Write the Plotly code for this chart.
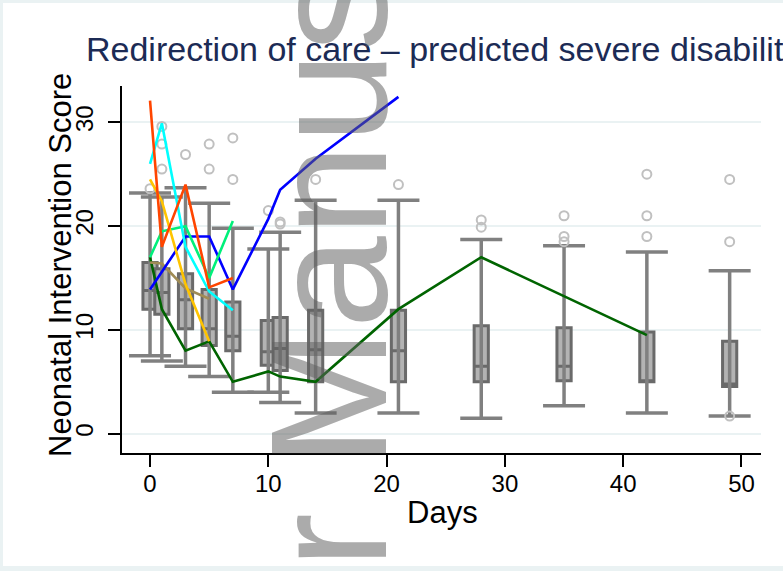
import plotly.graph_objects as go

# ---------------- data ----------------
box_days = [0, 1, 3, 5, 7, 10, 11, 14, 21, 28, 35, 42, 49]
box_q1 = [12.0, 11.5, 10.1, 8.5, 8.0, 6.6, 6.1, 5.0, 5.0, 5.0, 5.1, 5.0, 4.55]
box_med = [13.8, 13.6, 12.9, 10.1, 9.4, 7.9, 8.2, 8.1, 8.0, 6.5, 6.5, 5.0, 4.8]
box_q3 = [16.5, 15.9, 15.4, 13.9, 12.7, 10.9, 11.2, 11.9, 11.9, 10.4, 10.2, 9.8, 8.9]
whisk_lo = [7.5, 7.0, 6.5, 5.5, 4.0, 4.0, 3.0, 2.0, 2.0, 1.5, 2.7, 2.0, 1.7]
whisk_hi = [23.2, 22.8, 23.7, 22.2, 19.8, 17.8, 19.4, 22.5, 22.5, 18.7, 18.1, 17.5, 15.7]

outlier_days = [0, 1, 1, 1, 3, 5, 5, 7, 7, 10, 11, 11, 14, 21, 28, 28,
                35, 35, 35, 42, 42, 42, 49, 49, 49]
outlier_vals = [23.6, 29.6, 27.9, 25.5, 26.9, 27.9, 25.5, 28.5, 24.5, 21.5,
                20.4, 20.2, 24.5, 24.0, 20.6, 19.9, 21.0, 19.0, 18.5,
                25.0, 21.0, 19.0, 24.5, 18.5, 1.7]

orange_days = [0, 1, 3, 5, 7]
orange_vals = [32.1, 18.0, 24.0, 14.1, 15.0]
cyan_days = [0, 1, 3, 5, 7]
cyan_vals = [26.0, 29.9, 18.0, 13.7, 11.9]
gold_days = [0, 1, 3, 5]
gold_vals = [24.5, 22.4, 14.4, 8.9]
spring_days = [0, 1, 3, 5, 7]
spring_vals = [17.0, 19.5, 20.0, 15.0, 20.5]
blue_days = [0, 3, 5, 7, 10, 11, 14, 21]
blue_vals = [13.9, 19.0, 19.0, 13.9, 20.7, 23.5, 26.5, 32.45]
khaki_days = [0, 1, 3, 5]
khaki_vals = [16.5, 16.4, 14.0, 13.0]
dkgreen_days = [0, 1, 3, 5, 7, 10, 11, 14, 21, 28, 42]
dkgreen_vals = [17.0, 12.0, 8.0, 8.9, 5.0, 6.0, 5.5, 5.0, 12.0, 17.0, 9.5]

x_ticks = [0, 10, 20, 30, 40, 50]
y_ticks = [0, 10, 20, 30]

title_text = "Redirection of care \u2013 predicted severe disability"
x_title = "Days"
y_title = "Neonatal Intervention Score"
watermark = "Author Manuscript"

# ---------------- figure ----------------
W, H = 783, 571
ML, MR, MT, MB = 122, 22, 86, 118
PW, PH = W - ML - MR, H - MT - MB


def px_x(p):
    return (p - ML) / PW


def px_y(p):
    return (H - MB - p) / PH


FONT = "Liberation Sans, Arial, sans-serif"
fig = go.Figure()

# whiskers
wx, wy = [], []
for d, lo, hi in zip(box_days, whisk_lo, whisk_hi):
    wx += [d, d, None]
    wy += [lo, hi, None]
fig.add_trace(go.Scatter(x=wx, y=wy, mode="lines",
                         line=dict(color="#808080", width=3.5),
                         hoverinfo="skip", showlegend=False))
# caps
fig.add_trace(go.Scatter(x=box_days + box_days, y=whisk_lo + whisk_hi,
                         mode="markers",
                         marker=dict(symbol="line-ew", size=30,
                                     line=dict(color="#808080", width=3.5)),
                         hoverinfo="skip", showlegend=False))
# boxes
fig.add_trace(go.Box(x=box_days, q1=box_q1, median=box_med, q3=box_q3,
                     lowerfence=box_q1, upperfence=box_q3,
                     width=1.2, fillcolor="#B3B3B3",
                     line=dict(color="#6A6A6A", width=3),
                     boxpoints=False, hoverinfo="skip", showlegend=False))
# outliers
fig.add_trace(go.Scatter(x=outlier_days, y=outlier_vals, mode="markers",
                         marker=dict(symbol="circle-open", size=9,
                                     line=dict(color="#C0C0C0", width=2),
                                     color="#C0C0C0"),
                         hoverinfo="skip", showlegend=False))

series = [
    (dkgreen_days, dkgreen_vals, "#006400"),
    (khaki_days, khaki_vals, "#A08C55"),
    (blue_days, blue_vals, "#0000FF"),
    (spring_days, spring_vals, "#00F07A"),
    (gold_days, gold_vals, "#FFC400"),
    (cyan_days, cyan_vals, "#00FFFF"),
    (orange_days, orange_vals, "#FF4500"),
]
for xs, ys, c in series:
    fig.add_trace(go.Scatter(x=xs, y=ys, mode="lines",
                             line=dict(color=c, width=2.6),
                             hoverinfo="skip", showlegend=False))

fig.update_layout(
    width=W, height=H,
    margin=dict(l=ML, r=MR, t=MT, b=MB, pad=0, autoexpand=False),
    paper_bgcolor="#EAF2F3",
    plot_bgcolor="white",
    showlegend=False,
    boxmode="overlay",
    font=dict(family=FONT, color="black"),
    xaxis=dict(range=[-2.37, 51.65], tickvals=x_ticks, showgrid=False,
               zeroline=False, showline=True, linecolor="black", linewidth=2,
               ticks="outside", ticklen=12, tickwidth=2, tickcolor="black",
               ticklabelstandoff=-4, automargin=False,
               tickfont=dict(size=24, family=FONT, color="black")),
    yaxis=dict(range=[-1.86, 33.5], tickvals=y_ticks, showgrid=True,
               gridcolor="#EAF2F3", gridwidth=2, zeroline=False,
               showline=True, linecolor="black", linewidth=2,
               ticks="outside", ticklen=12, tickwidth=2, tickcolor="black",
               tickangle=-90, ticklabelstandoff=5, automargin=False,
               tickfont=dict(size=24, family=FONT, color="black")),
    shapes=[dict(type="rect", xref="paper", yref="paper", layer="below",
                 x0=px_x(3), x1=px_x(800), y0=px_y(566), y1=px_y(3),
                 fillcolor="white", line=dict(width=0))],
    annotations=[
        dict(text=title_text, xref="paper", yref="paper",
             x=px_x(83.5), y=px_y(49.2), xanchor="left", yanchor="middle",
             showarrow=False,
             font=dict(size=34, family=FONT, color="#1C2B55")),
        dict(text=y_title, xref="paper", yref="paper", textangle=-90,
             x=px_x(60), y=px_y(265), xanchor="center", yanchor="middle",
             showarrow=False, font=dict(size=31, family=FONT, color="black")),
        dict(text=x_title, xref="paper", yref="paper",
             x=px_x(442), y=px_y(512.5), xanchor="center", yanchor="middle",
             showarrow=False, font=dict(size=31, family=FONT, color="black")),
        dict(text=watermark, xref="paper", yref="paper", textangle=-90,
             x=px_x(328.5), y=px_y(328.5), xanchor="center", yanchor="middle",
             showarrow=False,
             font=dict(size=166, family=FONT, color="rgba(96,96,96,0.53)")),
    ],
)

fig.write_html("out.html",
               config={"displayModeBar": False, "staticPlot": True},
               post_script="document.body.style.margin='0';"
                           "document.body.style.overflow='hidden';")
